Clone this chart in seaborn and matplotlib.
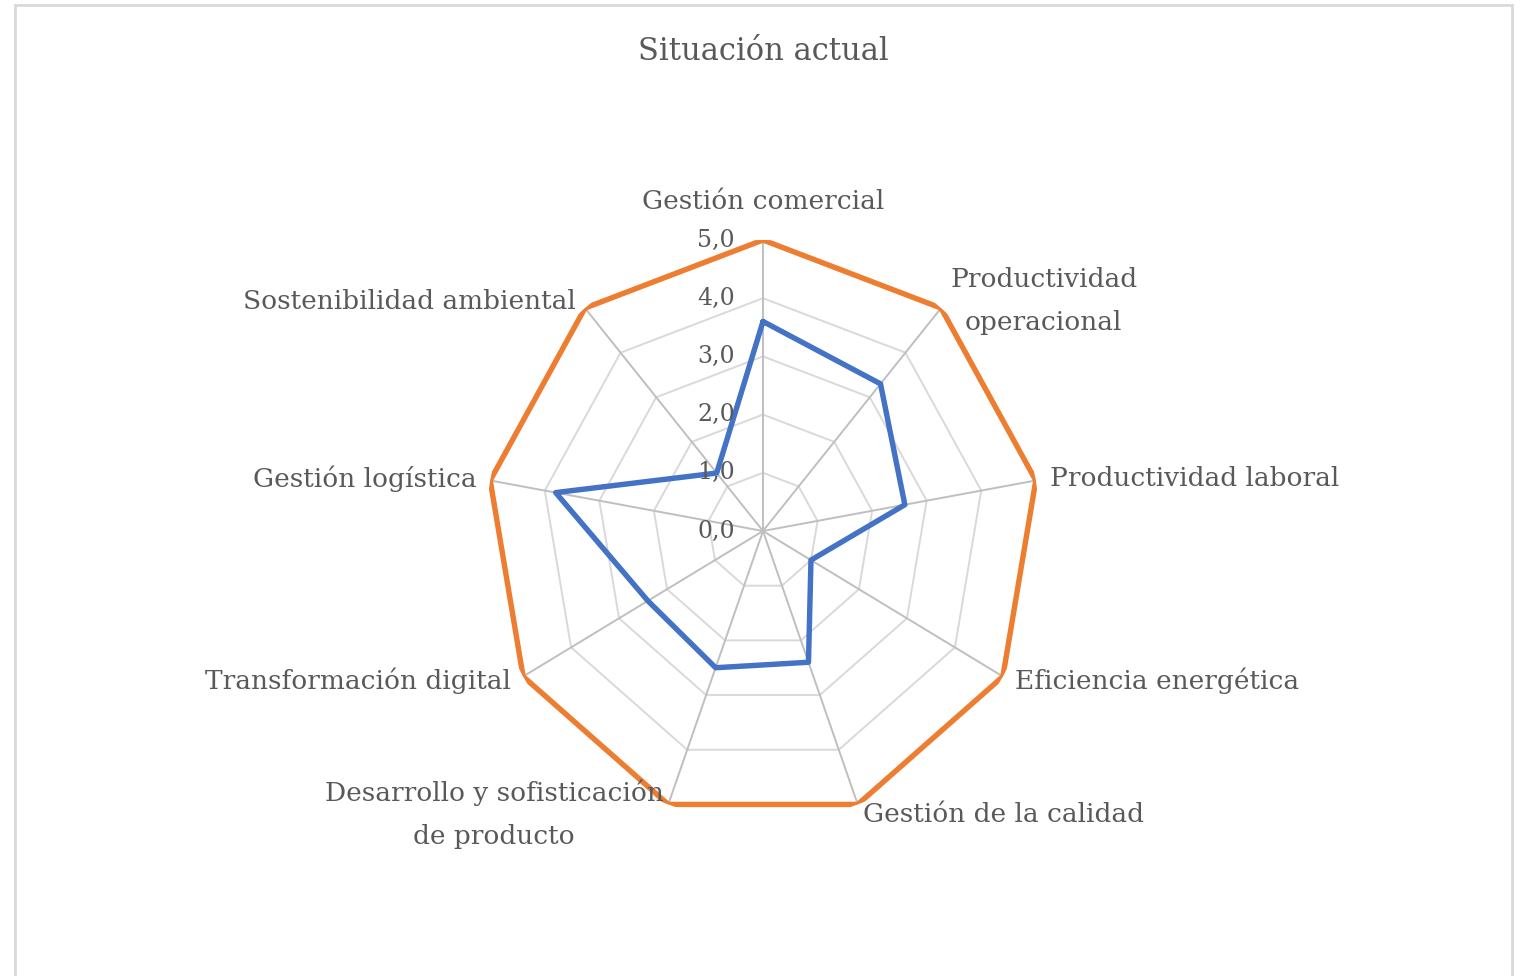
import numpy as np
import pandas as pd
import seaborn as sns
import matplotlib.pyplot as plt
from matplotlib.patches import Rectangle

# Chart data
categorias = ['Gestión comercial', 'Productividad\noperacional', 'Productividad laboral',
              'Eficiencia energética', 'Gestión de la calidad',
              'Desarrollo y sofisticación\nde producto', 'Transformación digital',
              'Gestión logística', 'Sostenibilidad ambiental']
situacion_actual = [3.6, 3.3, 2.6, 1.0, 2.4, 2.5, 2.4, 3.8, 1.3]
objetivo = [5.0, 5.0, 5.0, 5.0, 5.0, 5.0, 5.0, 5.0, 5.0]
niveles = [0, 1, 2, 3, 4, 5]
niveles_txt = ['0,0', '1,0', '2,0', '3,0', '4,0', '5,0']
titulo = 'Situación actual'

sns.set_style('white')
plt.rcParams['font.family'] = ['DejaVu Serif']
gris_txt = '#595959'

n = len(categorias)
angulos = np.linspace(0, 2 * np.pi, n, endpoint=False)
ang_cerrado = np.append(angulos, 2 * np.pi)

# long table for seaborn
filas = []
for nombre, valores in [('Situación actual', situacion_actual), ('Objetivo', objetivo)]:
    for a, v in zip(ang_cerrado, valores + valores[:1]):
        filas.append({'theta': a, 'valor': v, 'serie': nombre})
df = pd.DataFrame(filas)

fig = plt.figure(figsize=(15.24, 9.76), dpi=100)
# the original is slightly squeezed horizontally
rx, ry = 277, 291
ax = fig.add_axes([(763 - rx) / 1524, (976 - 531 - ry) / 976, 2 * rx / 1524, 2 * ry / 976],
                  projection='polar')
ax.set_aspect('auto')
ax.set_theta_zero_location('N')
ax.set_theta_direction(-1)
ax.set_ylim(0, 5)
ax.grid(False)
ax.spines['polar'].set_visible(False)
ax.set_xticks([])
ax.set_yticks([])

# polygon grid
for nv in niveles[1:]:
    ax.plot(ang_cerrado, [nv] * (n + 1), color='#D9D9D9', lw=1.4, zorder=1)
for a in angulos:
    ax.plot([a, a], [0, 5], color='#BFBFBF', lw=1.4, zorder=1)

sns.lineplot(data=df, x='theta', y='valor', hue='serie', sort=False, ax=ax,
             palette={'Situación actual': '#4472C4', 'Objetivo': '#ED7D31'},
             linewidth=3.9, legend=False, zorder=3)
ax.set_xlabel('')
ax.set_ylabel('')

# radial tick labels
for nv, txt in zip(niveles, niveles_txt):
    ax.annotate(txt, xy=(0, nv), xytext=(-28, 0), textcoords='offset pixels',
                ha='right', va='center', fontsize=17, color=gris_txt, zorder=4)

# category labels
for a, cat in zip(angulos, categorias):
    s = np.sin(a)
    c = np.cos(a)
    if abs(s) < 0.1:
        ha, dx, dy, va = 'center', 0, 26, 'bottom'
    elif s > 0:
        ha, dx, dy, va = 'left', 14 * s, 9 * c, 'center'
    else:
        ha, dx, dy, va = 'right', 14 * s, 9 * c, 'center'
    if c < -0.9:
        dy = -10
    ax.annotate(cat, xy=(a, 5), xytext=(dx, dy), textcoords='offset pixels',
                ha=ha, va=va, multialignment='center', fontsize=19,
                color=gris_txt, linespacing=1.9)

fig.text(763 / 1524, 1 - 52 / 976, titulo, ha='center', va='center',
         fontsize=22, color=gris_txt)

# chart area border
fig.patches.append(Rectangle((15 / 1524, -0.05), (1512 - 15) / 1524, 1.05 - 5 / 976,
                             transform=fig.transFigure, fill=False,
                             edgecolor='#D9D9D9', lw=2))

fig.savefig('out.png', dpi=100)
